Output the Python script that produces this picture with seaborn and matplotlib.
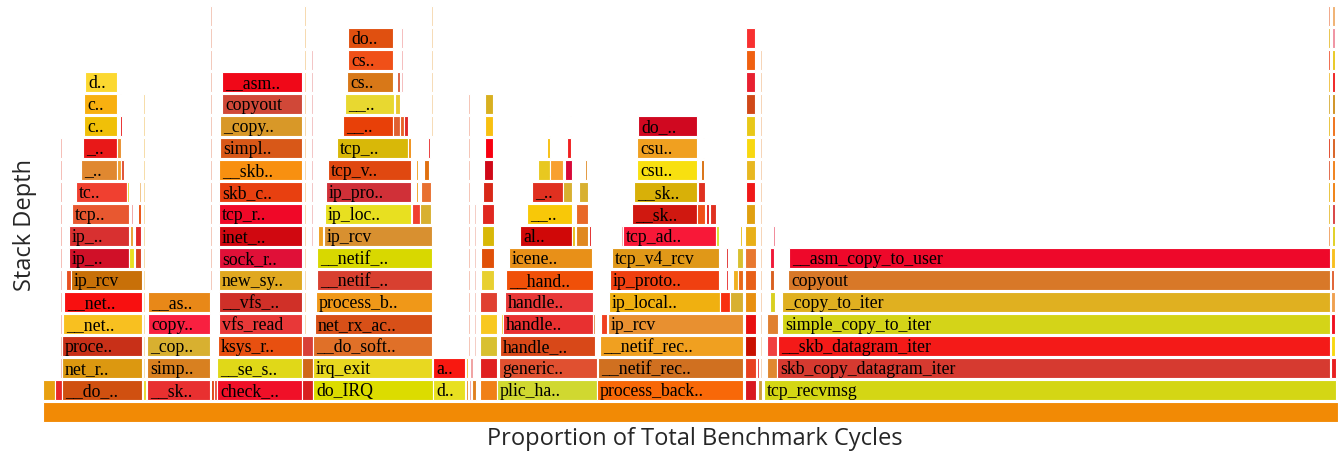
import seaborn as sns
import pandas as pd
import matplotlib.pyplot as plt

# Flame graph of a network receive benchmark.
# Every frame: (label, stack depth, start sample, width in samples); total = 1295 samples.
TOTAL = 1295

root = [("", 0, 0, 1295)]
root_colors = ["#F28A05"]

# softirq path on the left
tower_a = [
    ("", 1, 0, 12), ("", 1, 12, 7), ("__do_..", 1, 19, 80), ("", 1, 100, 3),
    ("net_r..", 2, 19, 80),
    ("proce..", 3, 19, 80),
    ("__net..", 4, 20, 79),
    ("__net..", 5, 21, 78),
    ("", 6, 23, 5), ("ip_rcv", 6, 28, 71),
    ("ip_..", 7, 26, 60), ("", 7, 86, 5), ("", 7, 92, 6),
    ("ip_..", 8, 26, 60), ("", 8, 87, 3), ("", 8, 92, 6),
    ("tcp..", 9, 29, 57), ("", 9, 88, 2), ("", 9, 95, 3),
    ("tc..", 10, 33, 51), ("", 10, 84, 2), ("", 10, 96, 2),
    ("_..", 11, 38, 36), ("", 11, 74, 4), ("", 11, 78, 3),
    ("_..", 12, 40, 34), ("", 12, 74, 4),
    ("c..", 13, 41, 33), ("", 13, 77, 2),
    ("c..", 14, 41, 33), ("", 14, 77, 1),
    ("d..", 15, 42, 32),
]
colors_a = ["#E8A010", "#E82828", "#D05010", "#E8D830",
            "#DC9810", "#C83018", "#F8C020", "#F81010",
            "#E85020", "#C87008",
            "#D01028", "#E8E020", "#D84020",
            "#D83030", "#E8A030", "#E02828",
            "#E85830", "#F0A0A0", "#E85010",
            "#F04030", "#E8D830", "#F0C080",
            "#E08830", "#F0A030", "#E05030",
            "#E81818", "#E89030",
            "#F0C008", "#E82020",
            "#F8B010", "#F0B0A0",
            "#FCD830"]

tower_b = [
    ("__sk..", 1, 104, 63), ("", 1, 168, 3), ("", 1, 171, 3),
    ("simp..", 2, 104, 63),
    ("_cop..", 3, 104, 63),
    ("copy..", 4, 105, 62),
    ("__as..", 5, 105, 62),
]
colors_b = ["#E83030", "#E04010", "#E85040", "#D88020", "#D8B030", "#F82040", "#E88818"]

# read syscall path
tower_c = [
    ("check_..", 1, 174, 85), ("", 1, 259, 11),
    ("__se_s..", 2, 174, 85), ("", 2, 259, 11),
    ("ksys_r..", 3, 175, 84), ("", 3, 259, 11),
    ("vfs_read", 4, 176, 83),
    ("__vfs_..", 5, 176, 83),
    ("new_sy..", 6, 176, 83),
    ("sock_r..", 7, 176, 83),
    ("inet_..", 8, 176, 83),
    ("tcp_r..", 9, 176, 83),
    ("skb_c..", 10, 176, 83),
    ("__skb..", 11, 176, 83),
    ("simpl..", 12, 177, 82),
    ("_copy..", 13, 177, 82),
    ("copyout", 14, 179, 80),
    ("__asm..", 15, 179, 80),
]
colors_c = ["#F01028", "#D82020", "#E0D818", "#D06818", "#E85010", "#D84038",
            "#E83838", "#D03028", "#E0A820", "#E01038", "#D00810", "#F00828",
            "#E84010", "#F89010", "#D85818", "#D89828", "#D04838", "#F00818"]

# interrupt path
tower_d = [
    ("do_IRQ", 1, 270, 120),
    ("irq_exit", 2, 270, 119),
    ("__do_soft..", 3, 270, 119),
    ("net_rx_ac..", 4, 272, 117),
    ("process_b..", 5, 273, 116),
    ("__netif_..", 6, 274, 115),
    ("__netif_..", 7, 274, 115),
    ("", 8, 275, 5), ("ip_rcv", 8, 281, 108),
    ("ip_loc..", 9, 282, 86), ("", 9, 369, 8), ("", 9, 377, 11),
    ("ip_pro..", 10, 283, 85), ("", 10, 373, 2), ("", 10, 378, 10),
    ("tcp_v..", 11, 285, 83), ("", 11, 373, 2), ("", 11, 381, 5),
    ("tcp_..", 12, 294, 71), ("", 12, 365, 3), ("", 12, 385, 2),
    ("__..", 13, 300, 50), ("", 13, 350, 7), ("", 13, 357, 4), ("", 13, 361, 4),
    ("__..", 14, 302, 49), ("", 14, 352, 5),
    ("cs..", 15, 304, 46), ("", 15, 354, 3),
    ("cs..", 16, 305, 45),
    ("do..", 17, 305, 45),
]
colors_d = ["#DCDC00", "#E8D820", "#E07028", "#D85018", "#F09818", "#D84030", "#D8D800",
            "#F0A020", "#D89030",
            "#E8E020", "#F04030", "#D8B030",
            "#D03038", "#F0A020", "#E87030",
            "#E04810", "#F0A020", "#E07010",
            "#D8B808", "#F09018", "#E83030",
            "#E84008", "#E06030", "#E86028", "#E02828",
            "#E8D830", "#E8C830",
            "#D87818", "#D86040",
            "#F05018",
            "#E05010"]

tower_mid = [
    ("d..", 1, 390, 32), ("", 1, 423, 2), ("", 1, 426, 2), ("", 1, 429, 4),
    ("a..", 2, 390, 32), ("", 2, 423, 2), ("", 2, 427, 3),
]
colors_mid = ["#E8E020", "#E89030", "#F0A0A0", "#E08020", "#F81810", "#F0C040", "#F0A0A0"]

tower_e1 = [
    ("", 1, 437, 17), ("", 2, 437, 17), ("", 3, 437, 17), ("", 4, 437, 17),
    ("", 5, 437, 17), ("", 6, 438, 13), ("", 7, 438, 13), ("", 8, 439, 12),
    ("", 9, 439, 12), ("", 10, 440, 10), ("", 11, 441, 9), ("", 12, 442, 8),
    ("", 13, 442, 8), ("", 14, 442, 8),
]
colors_e1 = ["#F08018", "#E02020", "#D8C030", "#F8C820", "#E04030", "#E8D030", "#E05008",
             "#D8B808", "#E02820", "#D82818", "#D00818", "#F80010", "#F8C010", "#D8B020"]

tower_e2 = [
    ("plic_ha..", 1, 454, 100),
    ("generic..", 2, 456, 98),
    ("handle_..", 3, 457, 95),
    ("", 4, 458, 2), ("handle..", 4, 460, 90), ("", 4, 550, 2),
    ("handle..", 5, 462, 88),
    ("__hand..", 6, 463, 87),
    ("icene..", 7, 466, 83),
    ("al..", 8, 477, 52), ("", 8, 529, 3), ("", 8, 533, 12), ("", 8, 546, 2),
    ("__..", 9, 484, 45), ("", 9, 533, 12),
    ("_..", 10, 489, 31), ("", 10, 520, 9), ("", 10, 536, 9),
    ("", 11, 495, 12), ("", 11, 507, 13), ("", 11, 522, 7), ("", 11, 542, 2),
    ("", 12, 504, 3), ("", 12, 524, 4),
    ("", 13, 506, 1), ("", 13, 527, 1),
]
colors_e2 = ["#D0D830", "#E05030", "#D84818",
             "#F0D040", "#E83030", "#E09050",
             "#E83838", "#F05008", "#E89018",
             "#D00808", "#E8C020", "#E08820", "#E02020",
             "#F8C808", "#E86828",
             "#E03020", "#D8B030", "#D8B030",
             "#E8C820", "#F8A030", "#D80838", "#E09030",
             "#F8C010", "#F02020",
             "#F0C0C0", "#F0B0A0"]

tower_f = [
    ("process_back..", 1, 554, 146),
    ("__netif_rec..", 2, 555, 145),
    ("__netif_rec..", 3, 557, 143),
    ("", 4, 558, 6), ("ip_rcv", 4, 565, 135),
    ("ip_local..", 5, 566, 111), ("", 5, 677, 10), ("", 5, 687, 13),
    ("ip_proto..", 6, 567, 109), ("", 6, 683, 2), ("", 6, 690, 5), ("", 6, 695, 5),
    ("tcp_v4_rcv", 7, 569, 107), ("", 7, 683, 2), ("", 7, 694, 6),
    ("", 8, 578, 2), ("tcp_ad..", 8, 580, 93), ("", 8, 673, 3), ("", 8, 697, 2),
    ("__sk..", 9, 589, 65), ("", 9, 654, 8), ("", 9, 663, 3), ("", 9, 667, 6), ("", 9, 675, 1),
    ("__sk..", 10, 591, 63), ("", 10, 655, 7),
    ("csu..", 11, 594, 60), ("", 11, 658, 3),
    ("csu..", 12, 594, 60), ("", 12, 660, 1),
    ("do_..", 13, 595, 59),
]
colors_f = ["#F86808", "#D07020", "#F0A020",
            "#F04020", "#E89030",
            "#F0B010", "#F83010", "#D8B030",
            "#F04010", "#E83030", "#F0B020", "#E86818",
            "#E09818", "#E03030", "#D8C030",
            "#F0A0A0", "#F81838", "#D8E030", "#E8C020",
            "#D01810", "#F05018", "#E02020", "#E03020", "#F0A0A0",
            "#D8B008", "#E03020",
            "#F8E010", "#D87010",
            "#F0A020", "#F0C0A0",
            "#D00820"]

tower_g = [
    ("", 1, 702, 11), ("", 2, 702, 11), ("", 3, 702, 11), ("", 4, 702, 11),
    ("", 5, 702, 11), ("", 6, 702, 11), ("", 7, 702, 11), ("", 8, 702, 11),
    ("", 9, 703, 9), ("", 10, 703, 9), ("", 11, 703, 9), ("", 12, 703, 9),
    ("", 13, 703, 9), ("", 14, 703, 9), ("", 15, 703, 9), ("", 16, 703, 9),
    ("", 17, 703, 9),
]
colors_g = ["#D81820", "#E84020", "#C81000", "#E81010", "#E89010", "#E86018", "#E87830",
            "#E8B018", "#E0A010", "#F01818", "#E8B820", "#F8D810", "#E8C818", "#D04818",
            "#E82030", "#F06010", "#F83030"]

tower_h = [
    ("", 1, 715, 4),
    ("", 2, 714, 2), ("", 2, 724, 10),
    ("", 3, 724, 10),
    ("", 4, 724, 11),
    ("", 5, 727, 5),
    ("", 6, 727, 4),
    ("", 7, 727, 4),
    ("", 8, 730, 2),
]
colors_h = ["#D0A040", "#E84040", "#E08830", "#F04040", "#E08030", "#D8D020",
            "#D86020", "#F01838", "#F08090"]

# the dominant copy-to-user path
tower_i = [
    ("tcp_recvmsg", 1, 721, 572),
    ("skb_copy_datagram_iter", 2, 734, 553), ("", 2, 1288, 5),
    ("__skb_datagram_iter", 3, 735, 552), ("", 3, 1288, 4),
    ("simple_copy_to_iter", 4, 739, 548), ("", 4, 1288, 4), ("", 4, 1293, 2),
    ("_copy_to_iter", 5, 739, 548), ("", 5, 1288, 4),
    ("copyout", 6, 745, 542), ("", 6, 1288, 3),
    ("__asm_copy_to_user", 7, 746, 541), ("", 7, 1288, 4),
]
colors_i = ["#D4D614", "#D63A30", "#E82020", "#F41A18", "#F8D810", "#D4D418", "#F01020",
            "#F0C0B0", "#E0B020", "#F0A050", "#D87828", "#E06030", "#EE082A", "#F8C020"]

tower_j = [
    ("", 8, 1285, 2), ("", 9, 1285, 2), ("", 10, 1285, 2), ("", 11, 1285, 2),
    ("", 12, 1285, 2), ("", 13, 1285, 2), ("", 14, 1285, 2), ("", 15, 1285, 2),
    ("", 16, 1285, 2), ("", 17, 1285, 2), ("", 18, 1285, 2),
    ("", 8, 1289, 3), ("", 9, 1289, 3), ("", 10, 1289, 3), ("", 11, 1289, 3),
    ("", 12, 1289, 3), ("", 13, 1289, 3), ("", 14, 1289, 3), ("", 15, 1289, 3),
    ("", 16, 1289, 3), ("", 17, 1289, 3), ("", 18, 1289, 3),
]
colors_j = ["#F0A060", "#E8C040", "#E8C030", "#E06040", "#E04020", "#E8C030",
            "#D8B040", "#F0C040", "#F06040", "#E8C040", "#F0A080",
            "#E0D020", "#D84040", "#F08010", "#F08018", "#D86020", "#F07018",
            "#D09020", "#F02020", "#E8C820", "#F090A0", "#F0B070"]

# very thin frames stacked in columns (start, width, lowest depth, highest depth)
sliver_start = [17, 100, 167, 261, 268, 358, 388, 425, 431, 717, 1294]
sliver_width = [1.5, 1.5, 1.5, 1.5, 1.5, 1.5, 1.5, 1.5, 1.5, 1.5, 1.5]
sliver_lo = [2, 2, 6, 4, 8, 15, 13, 3, 3, 2, 2]
sliver_hi = [12, 14, 18, 18, 16, 17, 18, 14, 9, 16, 5]
sliver_colors = ["#F4B8B0", "#F5D9A0", "#F2C4B4", "#F5D6A8", "#F2C0C0", "#F4B8B8",
                 "#F6D8B0", "#F4C0B0", "#F3C8C0", "#F6D0B0", "#F4C0A0"]

# build one table
parts = [(root, root_colors), (tower_a, colors_a), (tower_b, colors_b), (tower_c, colors_c),
         (tower_d, colors_d), (tower_mid, colors_mid), (tower_e1, colors_e1),
         (tower_e2, colors_e2), (tower_f, colors_f), (tower_g, colors_g),
         (tower_h, colors_h), (tower_i, colors_i), (tower_j, colors_j)]
rows = []
for frames, cols in parts:
    assert len(frames) == len(cols)
    for (label, depth, start, width), c in zip(frames, cols):
        rows.append(dict(label=label, depth=depth, start=start, width=width, color=c))
for s, w, lo, hi, c in zip(sliver_start, sliver_width, sliver_lo, sliver_hi, sliver_colors):
    for d in range(lo, hi + 1):
        rows.append(dict(label="", depth=d, start=s, width=w, color=c))
df = pd.DataFrame(rows)

sns.set_theme(style="white")
plt.rcParams['font.family'] = ['Open Sans', 'DejaVu Sans']

fig = plt.figure(figsize=(13.4, 4.52), dpi=100)
ax = fig.add_axes([43 / 1340, 28 / 452, 1295 / 1340, 418 / 452])

ax.barh(df["depth"], df["width"], left=df["start"], height=0.9,
        color=df["color"], edgecolor="white", linewidth=0.8)

for _, r in df[df["label"] != ""].iterrows():
    ax.text(r["start"] + 3, r["depth"] - 0.03, r["label"], fontsize=12.8,
            family="Liberation Serif", color="black", ha="left", va="center")

ax.set_xlim(0, TOTAL)
ax.set_ylim(-0.5, 18.5)
ax.set_xticks([])
ax.set_yticks([])
sns.despine(ax=ax, left=True, bottom=True)
ax.set_xlabel("Proportion of Total Benchmark Cycles", fontsize=17)
ax.set_ylabel("Stack Depth", fontsize=17)
ax.xaxis.set_label_coords(0.5035, -0.008)
ax.yaxis.set_label_coords(-0.0045, 0.476)

fig.savefig("out.png", dpi=100)
